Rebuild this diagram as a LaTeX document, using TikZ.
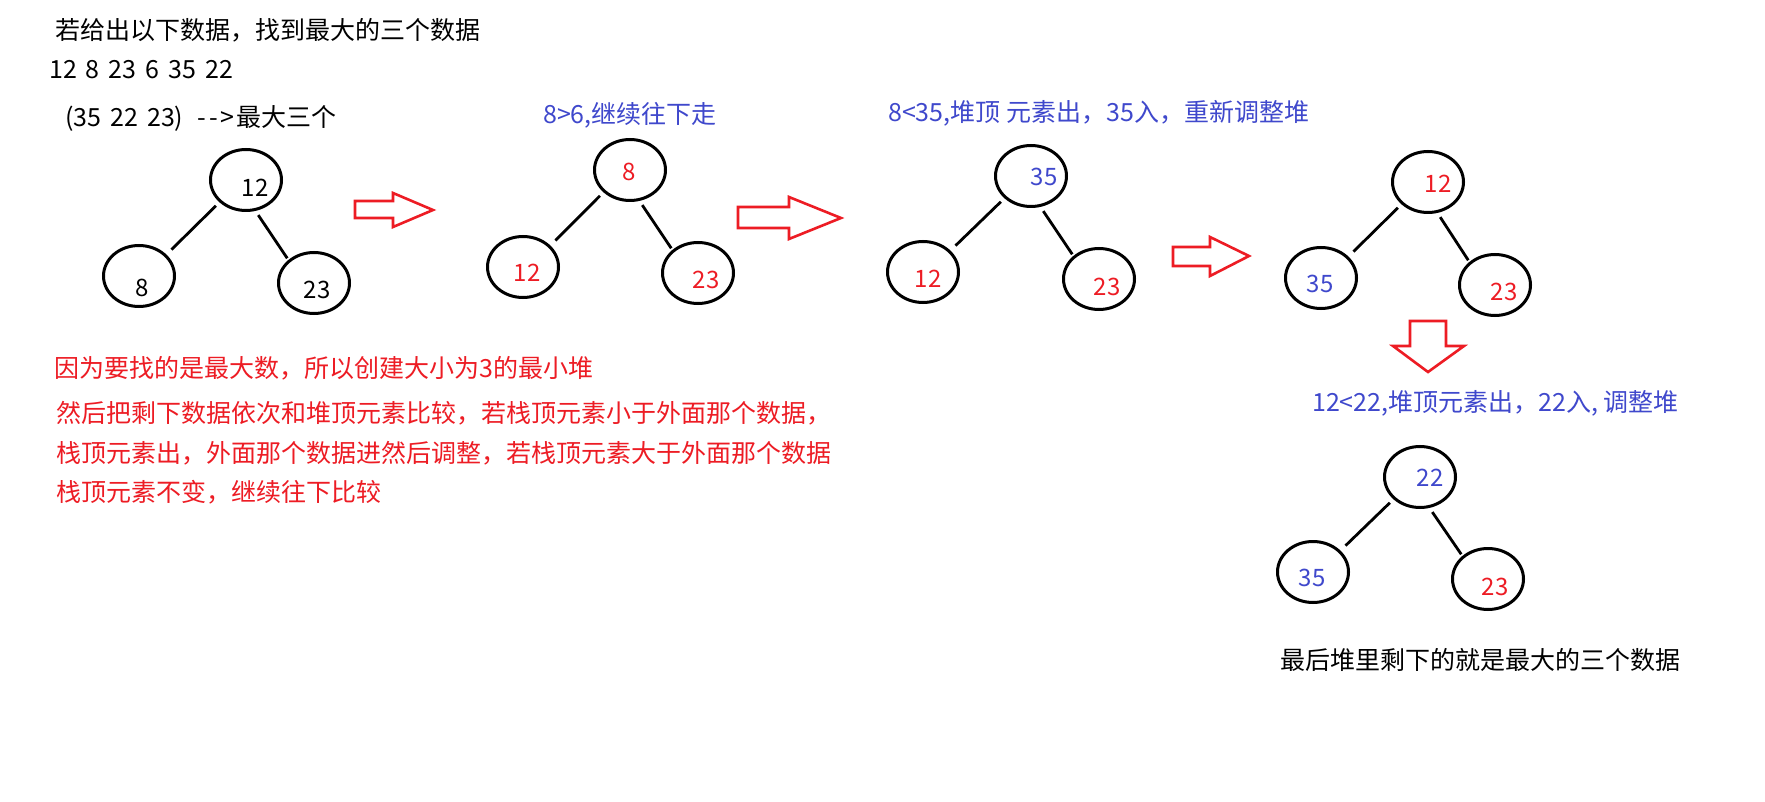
\documentclass[tikz,border=0pt]{standalone}
\usepackage{fontspec}
\setmainfont{Noto Sans CJK SC}
\usetikzlibrary{shapes.geometric}
\definecolor{pred}{RGB}{237,28,36}
\definecolor{pblue}{RGB}{63,72,204}
\tikzset{
  heapnode/.style={ellipse, draw=black, line width=3pt, minimum width=71pt, minimum height=61pt, inner sep=0pt},
  edgeline/.style={line width=2.8pt},
  ledge/.style={edgeline, shorten <=5pt, shorten >=7pt},
  redge/.style={edgeline, shorten <=5pt, shorten >=2pt},
  num/.style={font=\fontsize{24}{28}\selectfont, inner sep=0pt},
  txt/.style={font=\fontsize{25}{30}\selectfont, inner sep=0pt, anchor=west},
  blockarrow/.style={draw=pred, line width=2.6pt, line join=miter},
}
\begin{document}
\begin{tikzpicture}[x=1pt,y=-1pt]
\fill[white] (0,0) rectangle (1765,802);
\useasboundingbox (0,0) rectangle (1765,802);

% texts
\node[txt] (title) at (55,30) {若给出以下数据，找到最大的三个数据};
\node[txt] (data) at (49,70) {\spaceskip=9pt 12 8 23 6 35 22};
\node[txt] (result) at (65,118) {\spaceskip=9pt (35 22 23)\hspace{14pt}-\kern3pt-\kern3pt>\kern2pt最大三个};
\node[txt, text=pblue] (cap2) at (543,115) {8>6,继续往下走};
\node[txt, text=pblue] (cap3) at (888,113) {8<35,堆顶 元素出，35入，重新调整堆};
\node[txt, text=pblue] (cap5) at (1312,403) {12<22,堆顶元素出，22入, 调整堆};
\node[txt, text=pred] (p1) at (54,368) {因为要找的是最大数，所以创建大小为3的最小堆};
\node[txt, text=pred] (p2) at (56,413) {然后把剩下数据依次和堆顶元素比较，若栈顶元素小于外面那个数据，};
\node[txt, text=pred] (p3) at (56,453) {栈顶元素出，外面那个数据进然后调整，若栈顶元素大于外面那个数据};
\node[txt, text=pred] (p4) at (56,492) {栈顶元素不变，继续往下比较};
\node[txt] (final) at (1280,660) {最后堆里剩下的就是最大的三个数据};

% tree 1
\node[heapnode] (t1r) at (246,180) {};
\node[heapnode] (t1l) at (139,276) {};
\node[heapnode] (t1g) at (314,283) {};
\node[num] (n1r) at (255,188) {12};
\node[num] (n1l) at (142,288) {8};
\node[num] (n1g) at (317,290) {23};
\draw[ledge] (t1r.220) -- (t1l.38);
\draw[redge] (t1r.287) -- (t1g.138);

% tree 2
\node[heapnode] (t2r) at (630,170) {};
\node[heapnode] (t2l) at (523,267) {};
\node[heapnode] (t2g) at (698,273) {};
\node[num, text=pred] (n2r) at (629,172) {8};
\node[num, text=pred] (n2l) at (527,273) {12};
\node[num, text=pred] (n2g) at (706,280) {23};
\draw[ledge] (t2r.220) -- (t2l.38);
\draw[redge] (t2r.287) -- (t2g.138);

% tree 3
\node[heapnode] (t3r) at (1031,176) {};
\node[heapnode] (t3l) at (923,272) {};
\node[heapnode] (t3g) at (1099,279) {};
\node[num, text=pblue] (n3r) at (1044,177) {35};
\node[num, text=pred] (n3l) at (928,279) {12};
\node[num, text=pred] (n3g) at (1107,287) {23};
\draw[ledge] (t3r.220) -- (t3l.38);
\draw[redge] (t3r.287) -- (t3g.138);

% tree 4
\node[heapnode] (t4r) at (1428,182) {};
\node[heapnode] (t4l) at (1321,278) {};
\node[heapnode] (t4g) at (1495,285) {};
\node[num, text=pred] (n4r) at (1438,184) {12};
\node[num, text=pblue] (n4l) at (1320,284) {35};
\node[num, text=pred] (n4g) at (1504,292) {23};
\draw[ledge] (t4r.220) -- (t4l.38);
\draw[redge] (t4r.287) -- (t4g.138);

% tree 5
\node[heapnode] (t5r) at (1420,477) {};
\node[heapnode] (t5l) at (1313,572) {};
\node[heapnode] (t5g) at (1488,579) {};
\node[num, text=pblue] (n5r) at (1430,478) {22};
\node[num, text=pblue] (n5l) at (1312,578) {35};
\node[num, text=pred] (n5g) at (1495,587) {23};
\draw[ledge] (t5r.220) -- (t5l.38);
\draw[redge] (t5r.287) -- (t5g.138);

% block arrows
\draw[blockarrow] (355,201) -- (393,201) -- (393,193) -- (433,210) -- (393,227) -- (393,218) -- (355,218) -- cycle;
\draw[blockarrow] (738,207) -- (789,207) -- (789,197) -- (841,218) -- (789,239) -- (789,228) -- (738,228) -- cycle;
\draw[blockarrow] (1173,247) -- (1210,247) -- (1210,237) -- (1249,256) -- (1210,276) -- (1210,266) -- (1173,266) -- cycle;
\draw[blockarrow] (1410,321) -- (1446,321) -- (1446,346) -- (1464,346) -- (1428,372) -- (1393,346) -- (1410,346) -- cycle;
\end{tikzpicture}
\end{document}
